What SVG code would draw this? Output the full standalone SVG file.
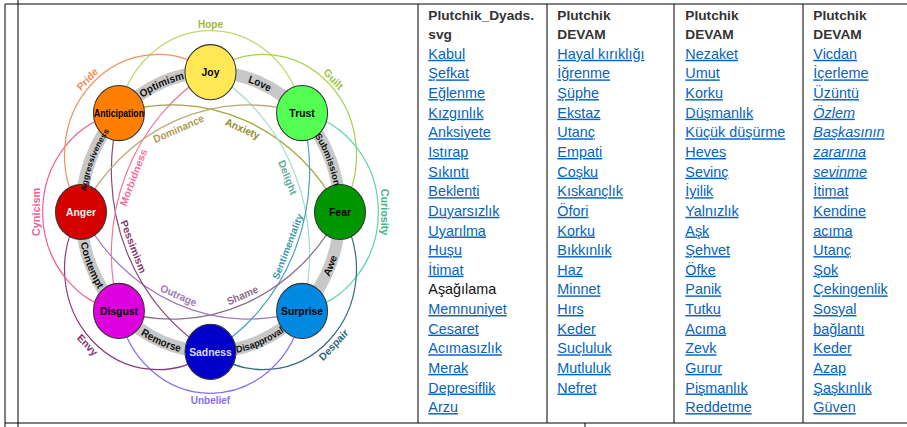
<svg xmlns="http://www.w3.org/2000/svg" width="907" height="427" viewBox="0 0 907 427">
<style>
.grid{stroke:#000;stroke-width:1;fill:none}
.hd{font-family:"Liberation Sans",Arial,sans-serif;font-weight:bold;font-size:13.7px;fill:#333}
.ln{font-family:"Liberation Sans",Arial,sans-serif;font-size:14.4px;fill:#0563c1;text-decoration:underline}
.pl{font-family:"Liberation Sans",Arial,sans-serif;font-size:14.4px;fill:#111}
.it{font-style:italic}
.node{stroke:#333;stroke-width:1}
.nl{font-family:"Liberation Sans",Arial,sans-serif;font-weight:bold;font-size:10.4px;text-anchor:middle;fill:#000}
.arc{fill:none;stroke-width:1.2}
.band{fill:none;stroke:#c8c8c8;stroke-width:12}
.bl{font-family:"Liberation Sans",Arial,sans-serif;font-weight:bold;font-size:10px;fill:#111;text-anchor:middle}
.dl{font-family:"Liberation Sans",Arial,sans-serif;font-weight:bold;font-size:10px;text-anchor:middle}
</style>
<defs>
<path id="pOpt" d="M -111.58 -58.08 A 125.8 125.8 0 0 1 37.83 -119.97"/>
<path id="pLov" d="M -37.83 -119.97 A 125.8 125.8 0 0 1 111.58 -58.08"/>
<path id="pSub" d="M 58.08 -111.58 A 125.8 125.8 0 0 1 119.97 37.83"/>
<path id="pAgg" d="M -119.97 37.83 A 125.8 125.8 0 0 1 -58.08 -111.58"/>
<path id="pAwe" d="M 61.5 118.15 A 133.2 133.2 0 0 0 127.03 -40.05"/>
<path id="pDis" d="M -40.05 127.03 A 133.2 133.2 0 0 0 118.15 61.5"/>
<path id="pRem" d="M -118.15 61.5 A 133.2 133.2 0 0 0 40.05 127.03"/>
<path id="pCon" d="M -127.03 -40.05 A 133.2 133.2 0 0 0 -61.5 118.15"/>
</defs>

<g id="table">
<path class="grid" d="M5 4 H907 M5 423 H907 M5 4 V427 M18 0 V427 M418 4 V423 M547 4 V423 M674 4 V423 M803 4 V423 M585 423 V427"/>
</g>

<g id="wheel" transform="translate(210.5,212) scale(1,1.08)">
<circle class="band" cx="0" cy="0" r="129.5"/>
<g id="connectors">
<path class="arc" stroke="#c5d66a" d="M -91.57 -91.57 A 93.1 93.1 0 0 1 91.57 -91.57"/>
<path class="arc" stroke="#a6d24a" d="M 0 -129.5 A 93.1 93.1 0 0 1 129.5 0"/>
<path class="arc" stroke="#5fd3ac" d="M 91.57 -91.57 A 93.1 93.1 0 0 1 91.57 91.57"/>
<path class="arc" stroke="#326b7e" d="M 129.5 0 A 93.1 93.1 0 0 1 0 129.5"/>
<path class="arc" stroke="#8a6cf0" d="M 91.57 91.57 A 93.1 93.1 0 0 1 -91.57 91.57"/>
<path class="arc" stroke="#8d3a7c" d="M 0 129.5 A 93.1 93.1 0 0 1 -129.5 0"/>
<path class="arc" stroke="#f0608e" d="M -91.57 91.57 A 93.1 93.1 0 0 1 -91.57 -91.57"/>
<path class="arc" stroke="#f5915a" d="M -129.5 0 A 93.1 93.1 0 0 1 0 -129.5"/>
<path class="arc" stroke="#a4a43a" d="M -91.57 -91.57 A 191.5 191.5 0 0 1 129.5 0"/>
<path class="arc" stroke="#a8d8cc" d="M 0 -129.5 A 191.5 191.5 0 0 1 91.57 91.57"/>
<path class="arc" stroke="#4aa6b8" d="M 91.57 -91.57 A 191.5 191.5 0 0 1 0 129.5"/>
<path class="arc" stroke="#8c6a8c" d="M 129.5 0 A 191.5 191.5 0 0 1 -91.57 91.57"/>
<path class="arc" stroke="#a07ab8" d="M 91.57 91.57 A 191.5 191.5 0 0 1 -129.5 0"/>
<path class="arc" stroke="#8a4a7a" d="M 0 129.5 A 191.5 191.5 0 0 1 -91.57 -91.57"/>
<path class="arc" stroke="#f07898" d="M -91.57 91.57 A 191.5 191.5 0 0 1 0 -129.5"/>
<path class="arc" stroke="#bca873" d="M -129.5 0 A 191.5 191.5 0 0 1 91.57 -91.57"/>
</g>

<g id="joy"><circle class="node" cx="0" cy="-129.5" r="25.5" fill="#ffe854"/><text class="nl" x="0" y="-125.8">Joy</text></g>
<g id="trust"><circle class="node" cx="91.57" cy="-91.57" r="25.5" fill="#54ff54"/><text class="nl" x="91.57" y="-87.9">Trust</text></g>
<g id="fear"><circle class="node" cx="129.5" cy="0" r="25.5" fill="#009600"/><text class="nl" x="129.5" y="3.7">Fear</text></g>
<g id="surprise"><circle class="node" cx="91.57" cy="91.57" r="25.5" fill="#0089e0"/><text class="nl" x="91.57" y="95.3">Surprise</text></g>
<g id="sadness"><circle class="node" cx="0" cy="129.5" r="25.5" fill="#0000c8"/><text class="nl" x="0" y="133.2" fill="#dcdcff" style="fill:#dcdcff">Sadness</text></g>
<g id="disgust"><circle class="node" cx="-91.57" cy="91.57" r="25.5" fill="#de00de"/><text class="nl" x="-91.57" y="95.3">Disgust</text></g>
<g id="anger"><circle class="node" cx="-129.5" cy="0" r="25.5" fill="#d40000"/><text class="nl" x="-129.5" y="3.7" style="fill:#fff0f0">Anger</text></g>
<g id="anticipation"><circle class="node" cx="-91.57" cy="-91.57" r="25.5" fill="#ff7f00"/><text class="nl" x="-91.57" y="-88.2" textLength="50" lengthAdjust="spacingAndGlyphs">Anticipation</text></g>

<g id="primary-labels">
<text class="bl"><textPath href="#pOpt" startOffset="50%">Optimism</textPath></text>
<text class="bl"><textPath href="#pLov" startOffset="50%">Love</textPath></text>
<text class="bl" style="font-size:9px"><textPath href="#pSub" startOffset="50%">Submission</textPath></text>
<text class="bl" style="font-size:8px"><textPath href="#pAgg" startOffset="50%">Aggressiveness</textPath></text>
<text class="bl"><textPath href="#pAwe" startOffset="50%">Awe</textPath></text>
<text class="bl" style="font-size:9px"><textPath href="#pDis" startOffset="50%">Disapproval</textPath></text>
<text class="bl"><textPath href="#pRem" startOffset="50%">Remorse</textPath></text>
<text class="bl"><textPath href="#pCon" startOffset="50%">Contempt</textPath></text>
</g>

<g id="secondary-labels">
<text class="dl" fill="#a3b43f" dy=".35em" transform="rotate(-90) translate(174,0) rotate(90)">Hope</text>
<text class="dl" fill="#98bf3a" dy=".35em" transform="rotate(-45) translate(174,0) rotate(90)">Guilt</text>
<text class="dl" fill="#43b48c" dy=".35em" transform="rotate(0) translate(174,0) rotate(90)">Curiosity</text>
<text class="dl" fill="#2d6b7c" dy=".35em" transform="rotate(45) translate(174,0) rotate(-90)">Despair</text>
<text class="dl" fill="#8a6cf0" dy=".35em" transform="rotate(90) translate(174,0) rotate(-90)">Unbelief</text>
<text class="dl" fill="#8a2f6e" dy=".35em" transform="rotate(135) translate(174,0) rotate(-90)">Envy</text>
<text class="dl" fill="#f0608e" dy=".35em" transform="rotate(180) translate(174,0) rotate(90)">Cynicism</text>
<text class="dl" fill="#f38a52" dy=".35em" transform="rotate(-135) translate(174,0) rotate(90)">Pride</text>
</g>

<g id="tertiary-labels">
<text class="dl" fill="#b09a55" dy=".35em" transform="rotate(-112.5) translate(83.5,0) rotate(90)">Dominance</text>
<text class="dl" fill="#909028" dy=".35em" transform="rotate(-67.5) translate(83.5,0) rotate(90)">Anxiety</text>
<text class="dl" fill="#62aa94" dy=".35em" transform="rotate(-22.5) translate(83.5,0) rotate(90)">Delight</text>
<text class="dl" fill="#3a9aac" dy=".35em" style="font-size:9.5px" transform="rotate(22.5) translate(83.5,0) rotate(-90)">Sentimentality</text>
<text class="dl" fill="#8c6a8c" dy=".35em" transform="rotate(67.5) translate(83.5,0) rotate(-90)">Shame</text>
<text class="dl" fill="#a07ab8" dy=".35em" transform="rotate(112.5) translate(83.5,0) rotate(-90)">Outrage</text>
<text class="dl" fill="#8a3a6a" dy=".35em" transform="rotate(157.5) translate(83.5,0) rotate(-90)">Pessimism</text>
<text class="dl" fill="#f0709a" dy=".35em" transform="rotate(-157.5) translate(83.5,0) rotate(90)">Morbidness</text>
</g>
</g>

<g id="col1">
<text class="hd" x="428.3" y="19.8">Plutchik_Dyads.</text>
<text class="hd" x="428.3" y="39.2">svg</text>
<text class="ln" x="428.3" y="58.8">Kabul</text>
<text class="ln" x="428.3" y="78.4">Şefkat</text>
<text class="ln" x="428.3" y="98.1">Eğlenme</text>
<text class="ln" x="428.3" y="117.7">Kızgınlık</text>
<text class="ln" x="428.3" y="137.3">Anksiyete</text>
<text class="ln" x="428.3" y="157">Istırap</text>
<text class="ln" x="428.3" y="176.6">Sıkıntı</text>
<text class="ln" x="428.3" y="196.2">Beklenti</text>
<text class="ln" x="428.3" y="215.8">Duyarsızlık</text>
<text class="ln" x="428.3" y="235.5">Uyarılma</text>
<text class="ln" x="428.3" y="255.1">Huşu</text>
<text class="ln" x="428.3" y="274.7">İtimat</text>
<text class="pl" x="428.3" y="294.4">Aşağılama</text>
<text class="ln" x="428.3" y="314">Memnuniyet</text>
<text class="ln" x="428.3" y="333.6">Cesaret</text>
<text class="ln" x="428.3" y="353.3">Acımasızlık</text>
<text class="ln" x="428.3" y="372.9">Merak</text>
<text class="ln" x="428.3" y="392.5">Depresiflik</text>
<text class="ln" x="428.3" y="412.1">Arzu</text>
</g>

<g id="col2">
<text class="hd" x="557.3" y="19.8">Plutchik</text>
<text class="hd" x="557.3" y="39.2">DEVAM</text>
<text class="ln" x="557.3" y="58.8">Hayal kırıklığı</text>
<text class="ln" x="557.3" y="78.4">İğrenme</text>
<text class="ln" x="557.3" y="98.1">Şüphe</text>
<text class="ln" x="557.3" y="117.7">Ekstaz</text>
<text class="ln" x="557.3" y="137.3">Utanç</text>
<text class="ln" x="557.3" y="157">Empati</text>
<text class="ln" x="557.3" y="176.6">Coşku</text>
<text class="ln" x="557.3" y="196.2">Kıskançlık</text>
<text class="ln" x="557.3" y="215.8">Öfori</text>
<text class="ln" x="557.3" y="235.5">Korku</text>
<text class="ln" x="557.3" y="255.1">Bıkkınlık</text>
<text class="ln" x="557.3" y="274.7">Haz</text>
<text class="ln" x="557.3" y="294.4">Minnet</text>
<text class="ln" x="557.3" y="314">Hırs</text>
<text class="ln" x="557.3" y="333.6">Keder</text>
<text class="ln" x="557.3" y="353.3">Suçluluk</text>
<text class="ln" x="557.3" y="372.9">Mutluluk</text>
<text class="ln" x="557.3" y="392.5">Nefret</text>
</g>

<g id="col3">
<text class="hd" x="685.3" y="19.8">Plutchik</text>
<text class="hd" x="685.3" y="39.2">DEVAM</text>
<text class="ln" x="685.3" y="58.8">Nezaket</text>
<text class="ln" x="685.3" y="78.4">Umut</text>
<text class="ln" x="685.3" y="98.1">Korku</text>
<text class="ln" x="685.3" y="117.7">Düşmanlık</text>
<text class="ln" x="685.3" y="137.3">Küçük düşürme</text>
<text class="ln" x="685.3" y="157">Heves</text>
<text class="ln" x="685.3" y="176.6">Sevinç</text>
<text class="ln" x="685.3" y="196.2">İyilik</text>
<text class="ln" x="685.3" y="215.8">Yalnızlık</text>
<text class="ln" x="685.3" y="235.5">Aşk</text>
<text class="ln" x="685.3" y="255.1">Şehvet</text>
<text class="ln" x="685.3" y="274.7">Öfke</text>
<text class="ln" x="685.3" y="294.4">Panik</text>
<text class="ln" x="685.3" y="314">Tutku</text>
<text class="ln" x="685.3" y="333.6">Acıma</text>
<text class="ln" x="685.3" y="353.3">Zevk</text>
<text class="ln" x="685.3" y="372.9">Gurur</text>
<text class="ln" x="685.3" y="392.5">Pişmanlık</text>
<text class="ln" x="685.3" y="412.1">Reddetme</text>
</g>

<g id="col4">
<text class="hd" x="813.3" y="19.8">Plutchik</text>
<text class="hd" x="813.3" y="39.2">DEVAM</text>
<text class="ln" x="813.3" y="58.8">Vicdan</text>
<text class="ln" x="813.3" y="78.4">İçerleme</text>
<text class="ln" x="813.3" y="98.1">Üzüntü</text>
<text class="ln it" x="813.3" y="117.7">Özlem</text>
<text class="ln it" x="813.3" y="137.3">Başkasının</text>
<text class="ln it" x="813.3" y="157">zararına</text>
<text class="ln it" x="813.3" y="176.6">sevinme</text>
<text class="ln" x="813.3" y="196.2">İtimat</text>
<text class="ln" x="813.3" y="215.8">Kendine</text>
<text class="ln" x="813.3" y="235.5">acıma</text>
<text class="ln" x="813.3" y="255.1">Utanç</text>
<text class="ln" x="813.3" y="274.7">Şok</text>
<text class="ln" x="813.3" y="294.4">Çekingenlik</text>
<text class="ln" x="813.3" y="314">Sosyal</text>
<text class="ln" x="813.3" y="333.6">bağlantı</text>
<text class="ln" x="813.3" y="353.3">Keder</text>
<text class="ln" x="813.3" y="372.9">Azap</text>
<text class="ln" x="813.3" y="392.5">Şaşkınlık</text>
<text class="ln" x="813.3" y="412.1">Güven</text>
</g>
</svg>
